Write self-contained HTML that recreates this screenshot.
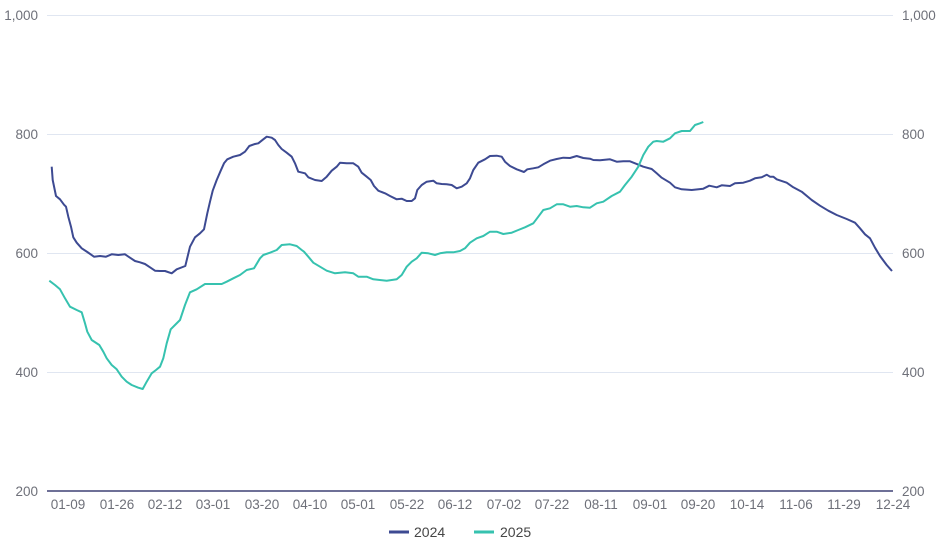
<!DOCTYPE html>
<html><head><meta charset="utf-8"><style>
html,body{margin:0;padding:0;background:#fff;}
svg{display:block;font-family:"Liberation Sans",Arial,sans-serif;}
</style></head><body>
<svg width="945" height="545" viewBox="0 0 945 545" xmlns="http://www.w3.org/2000/svg">
<g stroke="#E0E6F1" stroke-width="1">
<line x1="47" y1="15.5" x2="893" y2="15.5"/>
<line x1="47" y1="134.5" x2="893" y2="134.5"/>
<line x1="47" y1="253.5" x2="893" y2="253.5"/>
<line x1="47" y1="372.5" x2="893" y2="372.5"/>
</g>
<line x1="47" y1="491" x2="893" y2="491" stroke="#6E7097" stroke-width="2"/>
<g fill="#6E7079" font-size="13.5" text-anchor="end">
<text x="38" y="20">1,000</text>
<text x="38" y="139">800</text>
<text x="38" y="258">600</text>
<text x="38" y="377">400</text>
<text x="38" y="496">200</text>
</g>
<g fill="#6E7079" font-size="13.5" text-anchor="start">
<text x="902" y="20">1,000</text>
<text x="902" y="139">800</text>
<text x="902" y="258">600</text>
<text x="902" y="377">400</text>
<text x="902" y="496">200</text>
</g>
<g fill="#6E7079" font-size="13.5" text-anchor="middle">
<text x="68" y="509">01-09</text>
<text x="117" y="509">01-26</text>
<text x="165" y="509">02-12</text>
<text x="213" y="509">03-01</text>
<text x="262" y="509">03-20</text>
<text x="310" y="509">04-10</text>
<text x="358" y="509">05-01</text>
<text x="407" y="509">05-22</text>
<text x="455" y="509">06-12</text>
<text x="504" y="509">07-02</text>
<text x="552" y="509">07-22</text>
<text x="601" y="509">08-11</text>
<text x="650" y="509">09-01</text>
<text x="698" y="509">09-20</text>
<text x="747" y="509">10-14</text>
<text x="796" y="509">11-06</text>
<text x="844" y="509">11-29</text>
<text x="893" y="509">12-24</text>
</g>
<polyline fill="none" stroke="#3D4A92" stroke-width="2" stroke-linejoin="round" points="
51.7,166.7 52.7,180 56,196 60,199.3 64,204.7 66,206.7 68.3,216.7 71,226.7 73.3,237.3 76.7,242.7 81.7,248.3 87.3,252 94,256.7 100,256 106,256.7 111.7,254.3 118.3,255 125,254.3 130,257.7 135,261 140,262.3 145,264 150,267.3 155,270.7 160,271 165,271 171.7,273.3 176.7,269.3 185.3,266 190,246.7 195,237.3 200,233.3 204,229.3 207.3,213.3 210,201.7 212.7,190.7 216.7,180 220.7,170.7 224,163.3 227.3,159.3 233.3,156.7 240,155 245,151.7 249.3,146 255,144 258.3,143.3 263.3,139.3 266.7,136.7 271.7,137.7 275,140 278.3,145 281.7,149 286.7,152.7 291.7,156.7 295,163.3 298.3,171.7 305,173.3 308.3,177.3 315,180 321.7,181 326.7,176.7 331.7,170.7 336.7,166.7 340,162.7 346.7,163.3 353.3,163.3 358.3,166.7 361.7,172.7 366.7,176.7 370.7,180 374,186 378.3,190.7 385,193.3 390,196 396.7,199.3 401.7,198.7 406.7,201 411.7,201 415,198.3 417.3,190 421.7,185 426.7,181.7 433.3,180.7 436.7,183.3 441.7,184 446.7,184.3 451.7,185 456.7,188.3 461.7,186.7 466.7,183.3 470,178.3 473.3,170 478.3,162.7 485,159.3 490,156 496.7,155.7 501.7,156.7 505,161.7 510,166 516.7,169.3 524,172 527.3,169.3 533.3,168.3 538.3,167.3 543.3,164.3 550,160.7 556.7,159 563.3,157.7 570,158 576.7,156 583.3,158 590,158.7 593.3,160 600,160.3 610,159.3 616.7,161.7 623.3,161.3 630,161.3 635,163.3 643.3,166.7 651.7,169 656.7,173.3 661.7,177.7 670,182.7 675,187.3 681.7,189.3 691.7,190 703.3,188.7 709.3,185.7 716.7,187.3 721.7,185.3 730,186 735,183.3 743.3,182.7 750,180.7 755,178.3 761.7,177.3 766.7,174.7 770,176.7 773.3,176.7 776.7,179.3 786.7,182.7 793.3,187.3 801.7,191.7 811.7,200 820,205.7 828.3,210.7 836.7,215 846.7,219 855,222.7 860,228.3 865,234.3 870,238.3 875,247.7 880,256 886.7,265 892,271"/>
<polyline fill="none" stroke="#36C2AF" stroke-width="2" stroke-linejoin="round" points="
49.3,280.7 55,285 60,289.3 65,298.3 70,306.7 76.7,310 81.7,312.3 85,323.3 87.3,331.7 91.7,340 99.3,345 103.3,351.7 106.7,358.3 111.7,365 116.7,369.3 121.7,376.7 126.7,381.7 131.7,385 138.3,387.7 142.7,389 146.7,381.7 151.7,373.3 156,370 160,366.7 163.3,358.3 166.7,343.3 170.7,329.3 175,325 180,320 185,305 190,292.3 196.7,289.3 205,284 213.3,284 221.7,284 226.7,281.7 233.3,278.3 240,275 246.7,270 254,268.3 260,258.3 263.3,255 270,252.7 276.7,250 281.7,245 290,244.3 296.7,246 301.7,250 304,251.7 308.3,256.7 313.3,262.7 320,266.7 326.7,270.7 335,273.3 345,272.3 353.3,273.3 358.3,276.7 366.7,276.7 373.3,279.3 386.7,280.7 396.7,279.3 401.7,275 406.7,266.7 411.7,261.7 416.7,258.3 421.7,252.7 428.3,253.3 435,255 440,253.3 446.7,252.3 453.3,252.3 460,251 465,248.3 470,242.7 476.7,238.3 483.3,236 490,231.7 496.7,231.7 503.3,234 511.7,232.7 518.3,230 525,227.3 533.3,223.3 538.3,216.7 543.3,210 550,208.3 556.7,204.3 563.3,204.3 570,206.7 576.7,206 583.3,207.3 590,207.7 596.7,203.3 603.3,201.7 611.7,196 620,191.7 625,185 631.7,176.7 638.3,166.7 643.3,155 648.3,146.7 653.3,141.7 656.7,141 663.3,141.7 670,138.3 675,133.3 681.7,131 690,131 695,125 700,123.3 703.3,122"/>
<line x1="389" y1="532" x2="409" y2="532" stroke="#3D4A92" stroke-width="3"/>
<text x="414" y="537" font-size="14" fill="#464646">2024</text>
<line x1="474" y1="532" x2="494" y2="532" stroke="#36C2AF" stroke-width="3"/>
<text x="500" y="537" font-size="14" fill="#464646">2025</text>
</svg>
</body></html>
